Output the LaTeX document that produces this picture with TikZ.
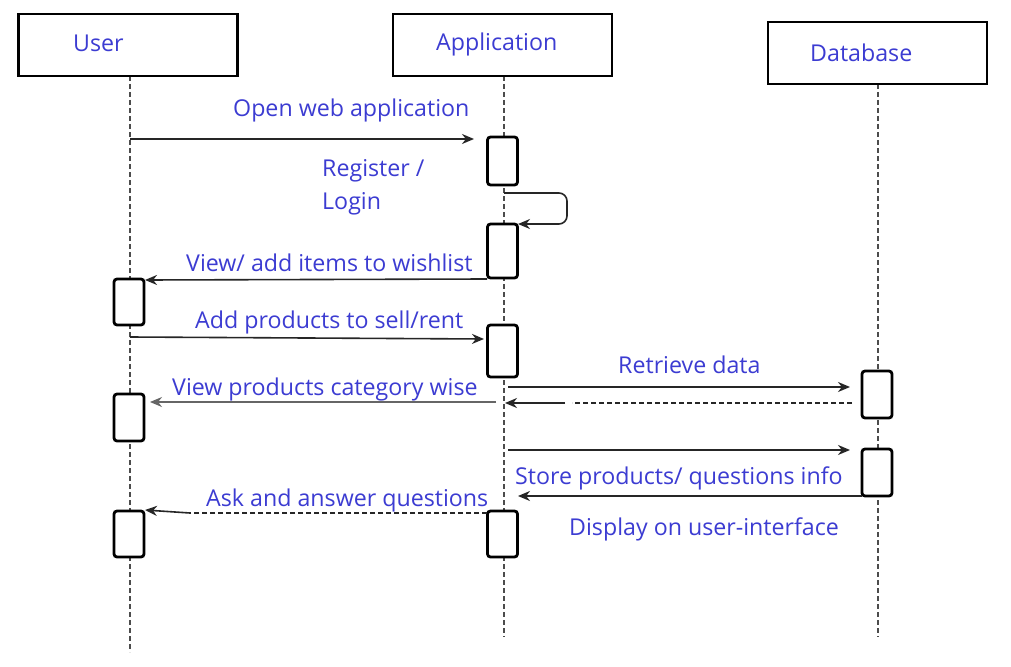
\documentclass[tikz,border=0pt]{standalone}
\usepackage{fontspec}
\setmainfont{Open Sans}
\usetikzlibrary{arrows.meta}
\definecolor{txt}{RGB}{60,60,210}
\begin{document}
\begin{tikzpicture}[x=1pt,y=-1pt,
  head/.style={draw=black,line width=2.4pt,fill=white,minimum width=219pt,minimum height=62pt,inner sep=0pt},
  act/.style={draw=black,line width=2.8pt,fill=white,rounded corners=3pt,minimum width=30pt,inner sep=0pt},
  life/.style={draw=black!70,line width=1.1pt,dash pattern=on 5pt off 3pt},
  lbl/.style={anchor=base west,inner sep=0pt,text=txt,font=\fontsize{23.2}{28}\selectfont},
  msg/.style={draw=black!85,line width=1.6pt,-{Stealth[length=12pt,width=10pt]}},
  dsh/.style={draw=black!85,line width=1.6pt,dash pattern=on 5pt off 3pt}]
\useasboundingbox (0,0) rectangle (1011,666);
\fill[white] (0,0) rectangle (1011,666);
% lifelines
\coordinate (uTop) at (130,76); \coordinate (uBot) at (130,652);
\coordinate (aTop) at (504,76); \coordinate (aBot) at (504,637);
\coordinate (dTop) at (878,84); \coordinate (dBot) at (878,637);
\draw[life] (uTop) -- (uBot);
\draw[life] (aTop) -- (aBot);
\draw[life] (dTop) -- (dBot);
% heads
\node[head] (hUser) at (128,45) {};
\node[head] (hApp) at (502.5,45) {};
\node[head] (hDb) at (877.5,53) {};
\node[lbl] (tUser) at (73,52) {User};
\node[lbl] (tApp) at (436,51) {Application};
\node[lbl] (tDb) at (810,62) {Database};
% activations
\node[act,minimum height=48pt] (a1) at (502.5,161) {};
\node[act,minimum height=54pt] (a2) at (502.5,251) {};
\node[act,minimum height=46pt] (u1) at (129,302) {};
\node[act,minimum height=52pt] (a3) at (502.5,351) {};
\node[act,minimum height=47pt] (u2) at (129,417.5) {};
\node[act,minimum height=47pt] (d1) at (877,394.5) {};
\node[act,minimum height=47pt] (d2) at (877,472.5) {};
\node[act,minimum height=46pt] (u3) at (129,534) {};
\node[act,minimum height=46pt] (a4) at (502.5,534) {};
% message coordinates
\coordinate (m1s) at (130,139); \coordinate (m1e) at (474,139);
\coordinate (s1) at (504,193); \coordinate (s2) at (567,193); \coordinate (s3) at (567,224); \coordinate (s4) at (518,224);
\coordinate (m2s) at (487,279); \coordinate (m2e) at (145,280);
\coordinate (m3s) at (130,337); \coordinate (m3e) at (484,339);
\coordinate (m4s) at (508,387); \coordinate (m4e) at (850,387);
\coordinate (r1s) at (852,403); \coordinate (r1m) at (572,403); \coordinate (r1n) at (565,403); \coordinate (r1e) at (505,403);
\coordinate (m5s) at (496,402); \coordinate (m5e) at (150,402);
\coordinate (m6s) at (508,450); \coordinate (m6e) at (850,450);
\coordinate (m7s) at (862,496); \coordinate (m7e) at (518,496);
\coordinate (q1s) at (487,513); \coordinate (q1m) at (190,513); \coordinate (q1e) at (145,510);
% messages
\draw[msg] (m1s) -- (m1e);
\draw[msg,rounded corners=8pt] (s1) -- (s2) -- (s3) -- (s4);
\draw[msg] (m2s) -- (m2e);
\draw[msg] (m3s) -- (m3e);
\draw[msg] (m4s) -- (m4e);
\draw[dsh] (r1s) -- (r1m);
\draw[msg] (r1n) -- (r1e);
\draw[msg,draw=black!60,line width=1.1pt] (m5s) -- (m5e);
\draw[msg] (m6s) -- (m6e);
\draw[msg] (m7s) -- (m7e);
\draw[dsh] (q1s) -- (q1m);
\draw[msg] (q1m) -- (q1e);
% labels
\node[lbl] (l1) at (233,117) {Open web application};
\node[lbl] (l2a) at (322,176) {Register /};
\node[lbl] (l2b) at (322,209) {Login};
\node[lbl] (l3) at (186,271) {View/ add items to wishlist};
\node[lbl] (l4) at (195,328) {Add products to sell/rent};
\node[lbl] (l5) at (618,373) {Retrieve data};
\node[lbl] (l6) at (172,395) {View products category wise};
\node[lbl] (l7) at (515,484) {Store products/ questions info};
\node[lbl] (l8) at (206,506) {Ask and answer questions};
\node[lbl] (l9) at (569,535) {Display on user-interface};
\end{tikzpicture}
\end{document}
